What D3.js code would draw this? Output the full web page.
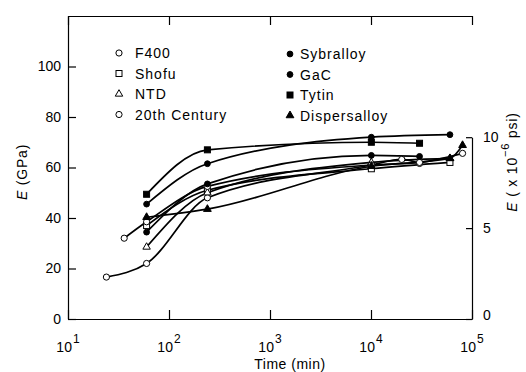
<!DOCTYPE html>
<html><head><meta charset="utf-8">
<script src="https://cdn.jsdelivr.net/npm/d3@7"></script>
<style>
body{margin:0;background:#fff;}
text{font-family:"Liberation Sans",Arial,sans-serif;fill:#000;}
</style></head>
<body><svg id="c" width="526" height="372"></svg>
<script>
// ---- data ----
const seriesNames = ["F400","Shofu","NTD","20th Century","Sybralloy","GaC","Tytin","Dispersalloy"];
const timesF400 = [24, 60, 240, 10080, 20160, 30240];
const valuesF400 = [16.6, 22, 48, 61, 63.2, 61.6];
const timesShofu = [60, 240, 10080, 60480];
const valuesShofu = [37, 51, 59.5, 62];
const timesNTD = [60, 240, 10080, 60480];
const valuesNTD = [28.5, 50, 62, 63.6];
const times20th = [36, 60, 240, 10080, 30240, 80640];
const values20th = [32, 38.5, 52.5, 61, 62, 65.6];
const timesSybralloy = [60, 240, 10080, 30240];
const valuesSybralloy = [34.4, 53.5, 64.8, 64.4];
const timesGaC = [60, 240, 10080, 60480];
const valuesGaC = [45.5, 61.5, 72, 73];
const timesTytin = [60, 240, 10080, 30240];
const valuesTytin = [49.4, 67, 70, 69.6];
const timesDispersalloy = [60, 240, 10080, 60480, 80640];
const valuesDispersalloy = [40.3, 43.5, 60.5, 63.6, 68.8];
const yTicksGPa = [0, 20, 40, 60, 80, 100];
const yTicksPsi = [0, 5, 10];
const xTickExponents = [1, 2, 3, 4, 5];

const seriesTimes = [timesF400,timesShofu,timesNTD,times20th,timesSybralloy,timesGaC,timesTytin,timesDispersalloy];
const seriesValues = [valuesF400,valuesShofu,valuesNTD,values20th,valuesSybralloy,valuesGaC,valuesTytin,valuesDispersalloy];
// marker style per series
const markerShape = ["circle","square","triangle","circle","circle","circle","square","triangle"];
const markerFilled = [false,false,false,false,true,true,true,true];

const svg = d3.select("#c");
const L=68, R=472, T=16, B=319;
const x = d3.scaleLog().domain([10,1e5]).range([L,R]);
const y = d3.scaleLinear().domain([0,120]).range([B,T]);
const yR = d3.scaleLinear().domain([0,10]).range([B, y(72)]);

// axes
const ax = (g)=>g.selectAll(".domain,.tick line").attr("stroke","#000").attr("stroke-width",1.2);
svg.append("g").attr("transform",`translate(0,${B})`)
  .call(d3.axisBottom(x).tickValues(xTickExponents.map(e=>Math.pow(10,e))).tickSizeInner(-9).tickSizeOuter(0).tickFormat(""))
  .call(ax);
svg.append("g").attr("transform",`translate(0,${T})`)
  .call(d3.axisTop(x).tickValues(xTickExponents.map(e=>Math.pow(10,e))).tickSizeInner(-9).tickSizeOuter(0).tickFormat(""))
  .call(ax);
const gl = svg.append("g").attr("transform",`translate(${L},0)`)
  .call(d3.axisLeft(y).tickValues(yTicksGPa).tickSizeInner(-8).tickSizeOuter(0).tickPadding(7))
  .call(ax);
gl.selectAll("text").style("font-size","14px").style("font-family","'Liberation Sans',Arial,sans-serif");
const gr = svg.append("g").attr("transform",`translate(${R},0)`)
  .call(d3.axisRight(yR).tickValues(yTicksPsi).tickSizeInner(-6).tickSizeOuter(0).tickPadding(11))
  .call(ax);
gr.selectAll("text").style("font-size","14px").style("font-family","'Liberation Sans',Arial,sans-serif");
gr.selectAll(".tick").filter(d=>d===0).select("text").attr("dy","0.0em");

// x tick labels with superscripts
xTickExponents.forEach(e=>{
  const t = svg.append("text").attr("x",x(Math.pow(10,e))).attr("y",352)
    .attr("text-anchor","middle").style("font-size","14px");
  t.append("tspan").text("10");
  t.append("tspan").attr("dy",-9).attr("dx",1).style("font-size","12px").text(e);
});
svg.append("text").attr("x",290).attr("y",369).attr("text-anchor","middle")
  .style("font-size","14px").style("letter-spacing","0.5px").text("Time (min)");

// y titles
const lt = svg.append("text").attr("transform","translate(27,172) rotate(-90)")
  .attr("text-anchor","middle").style("font-size","14px").style("letter-spacing","0.8px");
lt.append("tspan").style("font-style","italic").text("E");
lt.append("tspan").text(" (GPa)");
const rt = svg.append("text").attr("transform","translate(517,162) rotate(-90)")
  .attr("text-anchor","middle").style("font-size","14px").style("letter-spacing","0.8px");
rt.append("tspan").style("font-style","italic").text("E");
rt.append("tspan").text(" ( x 10");
rt.append("tspan").attr("dy",-8).style("font-size","11px").text("−6");
rt.append("tspan").attr("dy",8).text(" psi)");

// lines
const line = d3.line().x(d=>x(d[0])).y(d=>y(d[1])).curve(d3.curveMonotoneX);
const pts = seriesTimes.map((ts,i)=>ts.map((t,j)=>[t, seriesValues[i][j]]));
svg.append("g").selectAll("path").data(pts).join("path")
  .attr("d",line).attr("fill","none").attr("stroke","#000").attr("stroke-width",1.7);

function drawMarker(g, shape, filled, cx, cy){
  const fill = filled ? "#000" : "#fff";
  if(shape==="circle"){
    g.append("circle").attr("cx",cx).attr("cy",cy).attr("r",filled?2.9:3.1)
      .attr("fill",fill).attr("stroke","#000").attr("stroke-width",1);
  } else if(shape==="square"){
    g.append("rect").attr("x",cx-3).attr("y",cy-3).attr("width",6).attr("height",6)
      .attr("fill",fill).attr("stroke","#000").attr("stroke-width",1);
  } else {
    g.append("path").attr("transform",`translate(${cx},${cy})`)
      .attr("d",d3.symbol(d3.symbolTriangle).size(filled?26:24)())
      .attr("fill",fill).attr("stroke","#000").attr("stroke-width",1);
  }
}
const gm = svg.append("g");
pts.forEach((s,i)=>s.forEach(p=>drawMarker(gm, markerShape[i], markerFilled[i], x(p[0]), y(p[1]))));

// legend
const lg = svg.append("g");
seriesNames.forEach((n,i)=>{
  const col = i<4 ? 0 : 1;
  const row = i%4;
  const mx = col===0 ? 119 : 290;
  const my = (col===0 ? 53 : 54) + row*20.5;
  drawMarker(lg, markerShape[i], markerFilled[i], mx, my);
  lg.append("text").attr("x", mx + (col===0?16:10)).attr("y", my+5)
    .style("font-size","14px").style("letter-spacing","1px").text(n);
});
</script></body></html>
